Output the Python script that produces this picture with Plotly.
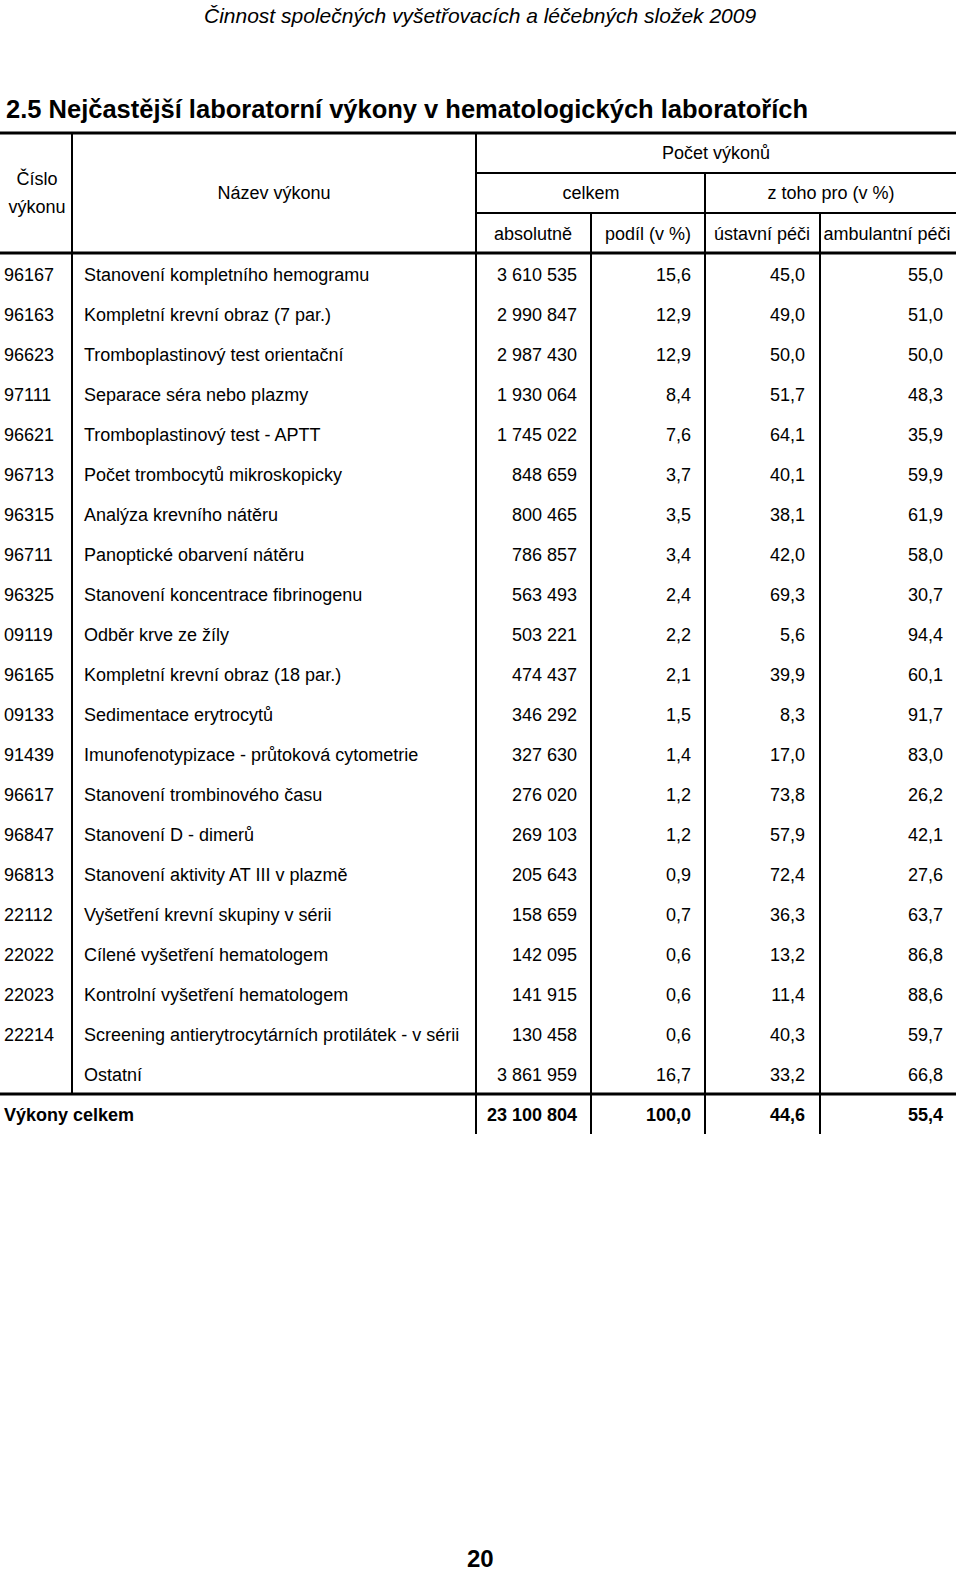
import plotly.graph_objects as go

codes = ["96167", "96163", "96623", "97111", "96621", "96713", "96315", "96711",
         "96325", "09119", "96165", "09133", "91439", "96617", "96847", "96813",
         "22112", "22022", "22023", "22214", ""]
names = ["Stanovení kompletního hemogramu", "Kompletní krevní obraz (7 par.)",
         "Tromboplastinový test orientační", "Separace séra nebo plazmy",
         "Tromboplastinový test - APTT", "Počet trombocytů mikroskopicky",
         "Analýza krevního nátěru", "Panoptické obarvení nátěru",
         "Stanovení koncentrace fibrinogenu", "Odběr krve ze žíly",
         "Kompletní krevní obraz (18 par.)", "Sedimentace erytrocytů",
         "Imunofenotypizace - průtoková cytometrie", "Stanovení trombinového času",
         "Stanovení D - dimerů", "Stanovení aktivity AT III v plazmě",
         "Vyšetření krevní skupiny v sérii", "Cílené vyšetření hematologem",
         "Kontrolní vyšetření hematologem",
         "Screening antierytrocytárních protilátek - v sérii", "Ostatní"]
absolute = [3610535, 2990847, 2987430, 1930064, 1745022, 848659, 800465, 786857,
            563493, 503221, 474437, 346292, 327630, 276020, 269103, 205643,
            158659, 142095, 141915, 130458, 3861959]
share = [15.6, 12.9, 12.9, 8.4, 7.6, 3.7, 3.5, 3.4, 2.4, 2.2, 2.1, 1.5, 1.4,
         1.2, 1.2, 0.9, 0.7, 0.6, 0.6, 0.6, 16.7]
inpatient = [45.0, 49.0, 50.0, 51.7, 64.1, 40.1, 38.1, 42.0, 69.3, 5.6, 39.9,
             8.3, 17.0, 73.8, 57.9, 72.4, 36.3, 13.2, 11.4, 40.3, 33.2]
outpatient = [55.0, 51.0, 50.0, 48.3, 35.9, 59.9, 61.9, 58.0, 30.7, 94.4, 60.1,
              91.7, 83.0, 26.2, 42.1, 27.6, 63.7, 86.8, 88.6, 59.7, 66.8]
total_label = "Výkony celkem"
total_values = [23100804, 100.0, 44.6, 55.4]

FONT = "Liberation Sans Narrow, Arial Narrow, Liberation Sans, Arial, sans-serif"
FS = 18


def fmt_int(v):
    return f"{v:,}".replace(",", " ")


def fmt_dec(v):
    return f"{v:.1f}".replace(".", ",")


row_y = [276 + 40 * i for i in range(len(codes))]
total_y = row_y[-1] + 40

fig = go.Figure()


def text_col(xpos, ys, texts, pos, bold=False):
    fig.add_trace(go.Scatter(
        x=[xpos] * len(ys), y=ys, text=texts, mode="text", textposition=pos,
        textfont=dict(family=FONT, size=FS, color="black"),
        hoverinfo="skip", showlegend=False,
        texttemplate="<b>%{text}</b>" if bold else "%{text}"))


text_col(4, row_y, codes, "middle right")
text_col(84, row_y, names, "middle right")
text_col(577, row_y, [fmt_int(v) for v in absolute], "middle left")
text_col(691, row_y, [fmt_dec(v) for v in share], "middle left")
text_col(805, row_y, [fmt_dec(v) for v in inpatient], "middle left")
text_col(943, row_y, [fmt_dec(v) for v in outpatient], "middle left")

# total row
text_col(4, [total_y], [total_label], "middle right", bold=True)
text_col(577, [total_y], [fmt_int(total_values[0])], "middle left", bold=True)
text_col(691, [total_y], [fmt_dec(total_values[1])], "middle left", bold=True)
text_col(805, [total_y], [fmt_dec(total_values[2])], "middle left", bold=True)
text_col(943, [total_y], [fmt_dec(total_values[3])], "middle left", bold=True)

# header texts
headers = [
    (37, 180, "Číslo"), (37, 208, "výkonu"), (274, 194, "Název výkonu"),
    (716, 154, "Počet výkonů"), (591, 194, "celkem"), (831, 194, "z toho pro (v %)"),
    (533, 235, "absolutně"), (648, 235, "podíl (v %)"),
    (762, 235, "ústavní péči"), (887, 235, "ambulantní péči"),
]
fig.add_trace(go.Scatter(
    x=[h[0] for h in headers], y=[h[1] for h in headers],
    text=[h[2] for h in headers], mode="text", textposition="middle center",
    textfont=dict(family=FONT, size=FS, color="black"),
    hoverinfo="skip", showlegend=False))


# grid lines
def hline(y, x0, x1, w=2):
    fig.add_shape(type="line", x0=x0, x1=x1, y0=y, y1=y,
                  line=dict(color="black", width=w))


def vline(x, y0, y1, w=2):
    fig.add_shape(type="line", x0=x, x1=x, y0=y0, y1=y1,
                  line=dict(color="black", width=w))


bottom = 1094
hline(133, 0, 956, 3)
hline(173, 476, 956)
hline(213, 476, 956)
hline(253, 0, 956, 3)
hline(bottom, 0, 956, 3)
vline(72, 133, bottom)
vline(476, 133, bottom + 40)
vline(591, 213, bottom + 40)
vline(705, 173, bottom + 40)
vline(820, 213, bottom + 40)

fig.add_annotation(x=480, y=15, text="<i>Činnost společných vyšetřovacích a léčebných složek 2009</i>",
                   showarrow=False, xanchor="center", yanchor="middle",
                   font=dict(family=FONT, size=21, color="black"))
fig.add_annotation(x=4, y=109, text="<b>2.5 Nejčastější laboratorní výkony v hematologických laboratořích</b>",
                   showarrow=False, xanchor="left", yanchor="middle",
                   font=dict(family=FONT, size=25.5, color="black"))
fig.add_annotation(x=480, y=1558, text="<b>20</b>", showarrow=False,
                   xanchor="center", yanchor="middle",
                   font=dict(family=FONT, size=24, color="black"))

fig.update_xaxes(range=[0, 960], visible=False, fixedrange=True)
fig.update_yaxes(range=[1573, 0], visible=False, fixedrange=True)
fig.update_layout(width=960, height=1573, margin=dict(l=0, r=0, t=0, b=0),
                  plot_bgcolor="white", paper_bgcolor="white")

fig.write_html("out.html", config={"displayModeBar": False},
               post_script="document.body.style.margin='0';")
